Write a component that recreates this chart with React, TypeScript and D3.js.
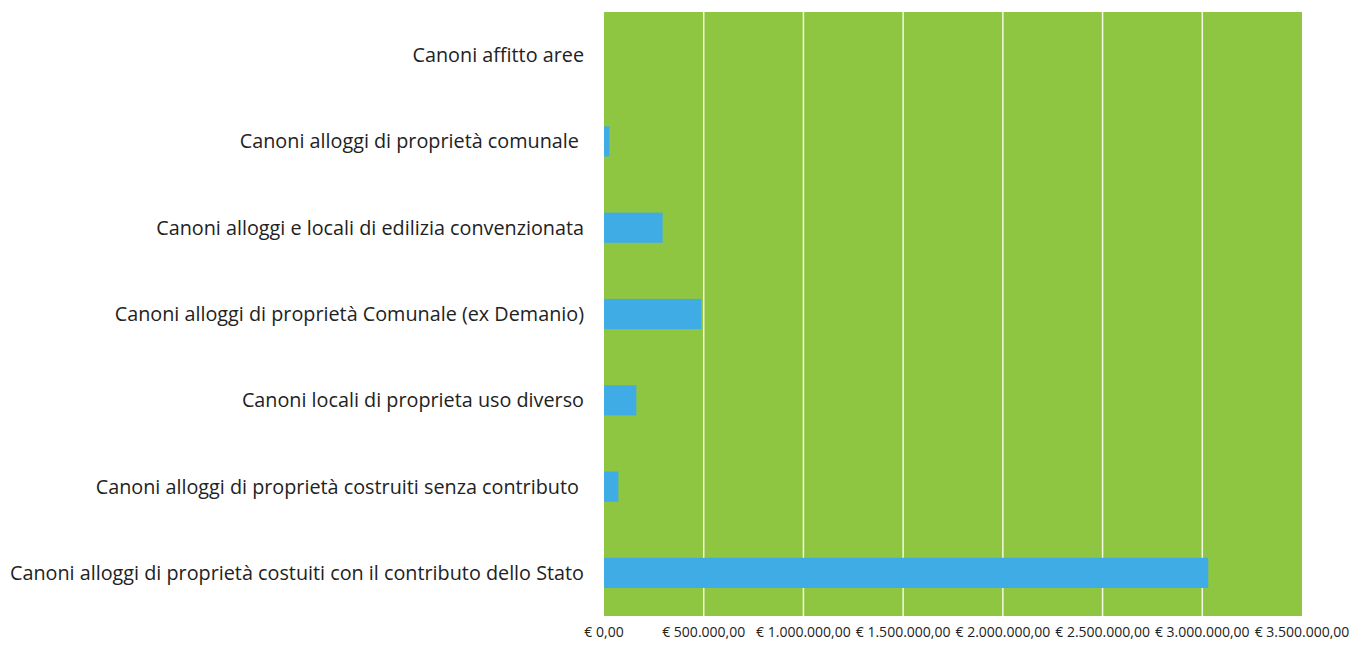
import React from "react";
import * as d3 from "d3";

const categories = [
  "Canoni affitto aree",
  "Canoni alloggi di proprietà comunale ",
  "Canoni alloggi e locali di edilizia convenzionata",
  "Canoni alloggi di proprietà Comunale (ex Demanio)",
  "Canoni locali di proprieta uso diverso",
  "Canoni alloggi di proprietà costruiti senza contributo ",
  "Canoni alloggi di proprietà costuiti con il contributo dello Stato",
];
const values = [0, 27000, 294000, 488000, 162000, 72000, 3030000];
const ticks = [0, 500000, 1000000, 1500000, 2000000, 2500000, 3000000, 3500000];

const fmt = (v: number) => {
  const s = d3.format(",.2f")(v).replace(/,/g, "#").replace(/\./g, ",").replace(/#/g, ".");
  return "€ " + s;
};

export default function App() {
  const W = 1368, H = 647;
  const left = 604, right = 1302, top = 12, bottom = 616;
  const x = d3.scaleLinear().domain([0, 3500000]).range([left, right]);
  const y = d3.scaleBand().domain(categories).range([top, bottom]).paddingInner(0.65).paddingOuter(0.325);
  const font = "'Open Sans', 'Noto Sans', sans-serif";
  return (
    <svg width={W} height={H} style={{ position: "absolute", left: 0, top: 0, background: "#fff" }}>
      <rect x={left} y={top} width={right - left} height={bottom - top} fill="#8fc641" />
      {ticks.slice(1, -1).map((t) => (
        <line key={t} x1={x(t)} x2={x(t)} y1={top} y2={bottom} stroke="#f4f7e4" strokeWidth={1.5} />
      ))}
      {categories.map((c, i) => (
        <rect key={c} x={x(0)} y={y(c)!} width={x(values[i]) - x(0)} height={y.bandwidth()} fill="#40ace6" />
      ))}
      {categories.map((c) => (
        <text key={c} x={584} y={y(c)! + y.bandwidth() / 2} dy="0.35em" textAnchor="end"
          fontFamily={font} fontSize={19.8} fill="#222" style={{ whiteSpace: "pre" }}>
          {c}
        </text>
      ))}
      {ticks.map((t) => (
        <text key={t} x={x(t)} y={637} textAnchor="middle" fontFamily={font} fontSize={14} fill="#222">
          {fmt(t)}
        </text>
      ))}
    </svg>
  );
}
